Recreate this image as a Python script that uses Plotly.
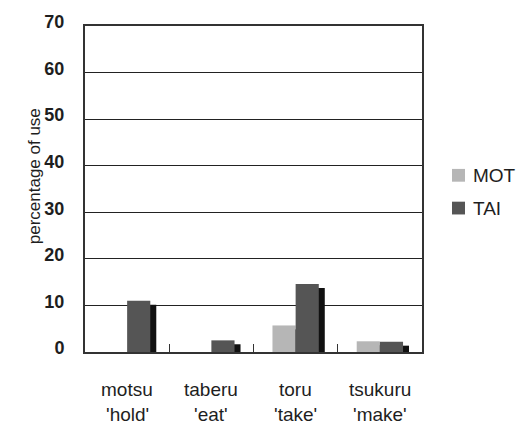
import plotly.graph_objects as go

# Verb categories (romanised form and gloss) and percentage-of-use values
verbs = ["motsu", "taberu", "toru", "tsukuru"]
glosses = ["'hold'", "'eat'", "'take'", "'make'"]
series_names = ["MOT", "TAI"]
mot_values = [0.0, 0.0, 5.7, 2.3]
tai_values = [11.0, 2.5, 14.6, 2.2]
y_ticks = [0, 10, 20, 30, 40, 50, 60, 70]

FONT = "Liberation Sans, Arial, sans-serif"
TEXT = "#1e1e1e"
COLORS = ["#b6b6b6", "#555555"]
BAR_W = 0.275         # bar width in category units
SHADOW_DX = 0.071     # shadow shift to the right (category units)
SHADOW_DY = 0.84      # shadow drop (value units)

fig = go.Figure()

# drop shadows sit behind the bars
for vals, off in ((mot_values, -BAR_W), (tai_values, 0.0)):
    fig.add_trace(go.Bar(
        x=verbs, y=[max(v - SHADOW_DY, 0) for v in vals],
        width=BAR_W, offset=off + SHADOW_DX,
        marker=dict(color="#111111", line=dict(width=0)),
        showlegend=False, hoverinfo="skip",
    ))

for name, vals, off, col in zip(series_names, (mot_values, tai_values), (-BAR_W, 0.0), COLORS):
    fig.add_trace(go.Bar(
        x=verbs, y=vals, name=name, width=BAR_W, offset=off,
        marker=dict(color=col, line=dict(width=0)), showlegend=False,
    ))

# two-line category labels below the axis
for v, g in zip(verbs, glosses):
    fig.add_annotation(x=v, y=0, xref="x", yref="paper", text=v, showarrow=False,
                       yanchor="middle", yshift=-37, font=dict(family=FONT, size=19, color=TEXT))
    fig.add_annotation(x=v, y=0, xref="x", yref="paper", text=g, showarrow=False,
                       yanchor="middle", yshift=-62, font=dict(family=FONT, size=19, color=TEXT))

fig.add_annotation(x=-0.1855, y=0.539, xref="paper", yref="paper", text="percentage of use",
                   textangle=-90, showarrow=False,
                   font=dict(family=FONT, size=17, color=TEXT))

# legend: swatch + label per series
for i, (name, col) in enumerate(zip(series_names, COLORS)):
    yc = 0.542 - i * 0.1005
    fig.add_shape(type="rect", xref="paper", yref="paper",
                  x0=1.089, x1=1.1276, y0=yc - 0.0196, y1=yc + 0.0196,
                  fillcolor=col, line=dict(width=0))
    fig.add_annotation(x=1.1455, y=yc, xref="paper", yref="paper", text=name,
                       showarrow=False, xanchor="left", yanchor="middle",
                       font=dict(family=FONT, size=19, color=TEXT))

fig.update_layout(
    width=518, height=426,
    margin=dict(l=85, r=96, t=21, b=74),
    paper_bgcolor="white", plot_bgcolor="white",
    barmode="overlay",
    showlegend=False,
    xaxis=dict(
        type="category", showticklabels=False, showgrid=False,
        ticks="inside", tickson="boundaries", ticklen=8, tickcolor="#333", tickwidth=1,
        showline=True, linecolor="#333", linewidth=2, mirror=True,
        range=[-0.5, 3.5],
    ),
    yaxis=dict(
        range=[0, 70], tickvals=y_ticks, showgrid=True, gridcolor="#222", gridwidth=1,
        showline=True, linecolor="#333", linewidth=2, mirror=True,
        ticks="", ticklabelstandoff=15, ticklabelshift=-4, zeroline=False,
        tickfont=dict(family=FONT, size=18, color=TEXT, weight="bold"),
    ),
)

fig.write_html("out.html")
